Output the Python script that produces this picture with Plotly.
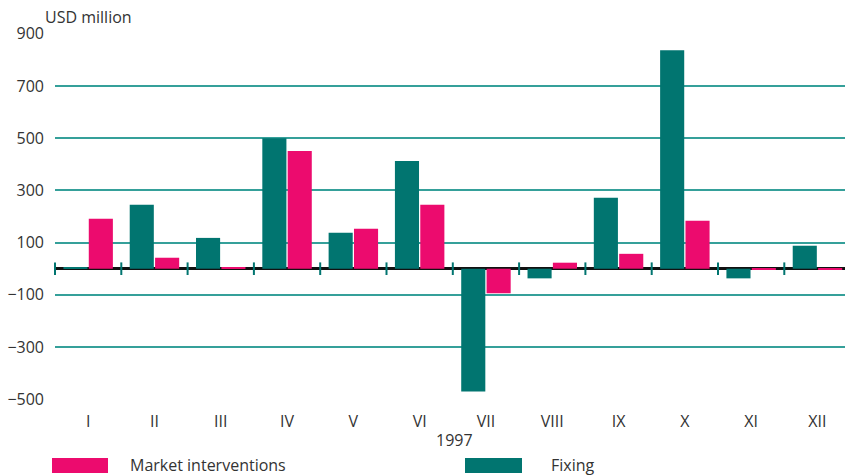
import plotly.graph_objects as go

months = ["I", "II", "III", "IV", "V", "VI", "VII", "VIII", "IX", "X", "XI", "XII"]
fixing = [6, 245, 118, 500, 138, 413, -470, -37, 272, 837, -37, 88]
market = [191, 42, 5, 451, 153, 245, -94, 23, 57, 184, -2, -2]
y_ticks = [900, 700, 500, 300, 100, -100, -300, -500]
year_label = "1997"

TEAL = "#017570"
PINK = "#EC0B6E"
GRID = "#35A09A"
FONT = "Open Sans"
TXT = "#333333"

W, H = 845, 475
L, R, T, B = 55, 0, 33, 75
pw, ph = W - L - R, H - T - B

def px(x):
    return (x - L) / pw

def py(y):
    return (H - B - y) / ph

xs = list(range(1, len(months) + 1))

fig = go.Figure()
fig.add_trace(go.Bar(x=xs, y=fixing, name="Fixing", marker_color=TEAL,
                     marker_line_width=0, showlegend=False))
fig.add_trace(go.Bar(x=xs, y=market, name="Market interventions", marker_color=PINK,
                     marker_line_width=0, showlegend=False))
# boundary tick marks on the zero line
bounds = [x + 0.5 for x in [0] + xs]
fig.add_trace(go.Scatter(x=bounds, y=[0] * len(bounds), mode="markers",
                         marker=dict(symbol="line-ns-open", size=9, color=TEAL,
                                     line=dict(color=TEAL, width=2)),
                         showlegend=False, hoverinfo="skip", cliponaxis=False))

fig.update_layout(
    template="none",
    width=W, height=H,
    margin=dict(l=L, r=R, t=T, b=B, autoexpand=False),
    plot_bgcolor="white", paper_bgcolor="white",
    barmode="group", bargap=0.235, bargroupgap=0.05,
    font=dict(family=FONT, size=16, color=TXT),
    xaxis=dict(range=[0.5, 0.5 + pw / 66.3], tickvals=xs, ticktext=months,
               showgrid=False, zeroline=False, showline=False, ticks="",
               automargin=False,
               tickfont=dict(size=16, color=TXT), ticklabelstandoff=10),
    yaxis=dict(range=[-503, 903], tickvals=y_ticks, showgrid=True,
               gridcolor=GRID, gridwidth=2, zeroline=True,
               zerolinecolor="#111111", zerolinewidth=2.5, showline=False,
               ticks="", automargin=False,
               tickfont=dict(size=16, color=TXT), ticklabelstandoff=10),
    annotations=[
        dict(text="USD million", x=px(43), y=py(17), xref="paper", yref="paper",
             xanchor="left", yanchor="middle", showarrow=False,
             font=dict(size=16, color=TXT)),
        dict(text=year_label, x=px(454), y=py(440), xref="paper", yref="paper",
             xanchor="center", yanchor="middle", showarrow=False,
             font=dict(size=16, color=TXT)),
        dict(text="Market interventions", x=px(128), y=py(465), xref="paper",
             yref="paper", xanchor="left", yanchor="middle", showarrow=False,
             font=dict(size=16, color=TXT)),
        dict(text="Fixing", x=px(549), y=py(465), xref="paper",
             yref="paper", xanchor="left", yanchor="middle", showarrow=False,
             font=dict(size=16, color=TXT)),
    ],
    shapes=[
        dict(type="rect", xref="paper", yref="paper", x0=px(52), x1=px(108),
             y0=py(473), y1=py(458), fillcolor=PINK, line_width=0),
        dict(type="rect", xref="paper", yref="paper", x0=px(465), x1=px(522),
             y0=py(473), y1=py(458), fillcolor=TEAL, line_width=0),
    ],
)

fig.write_html("out.html", config={"displayModeBar": False},
               post_script="document.body.style.margin='0';document.body.style.overflow='hidden';")
